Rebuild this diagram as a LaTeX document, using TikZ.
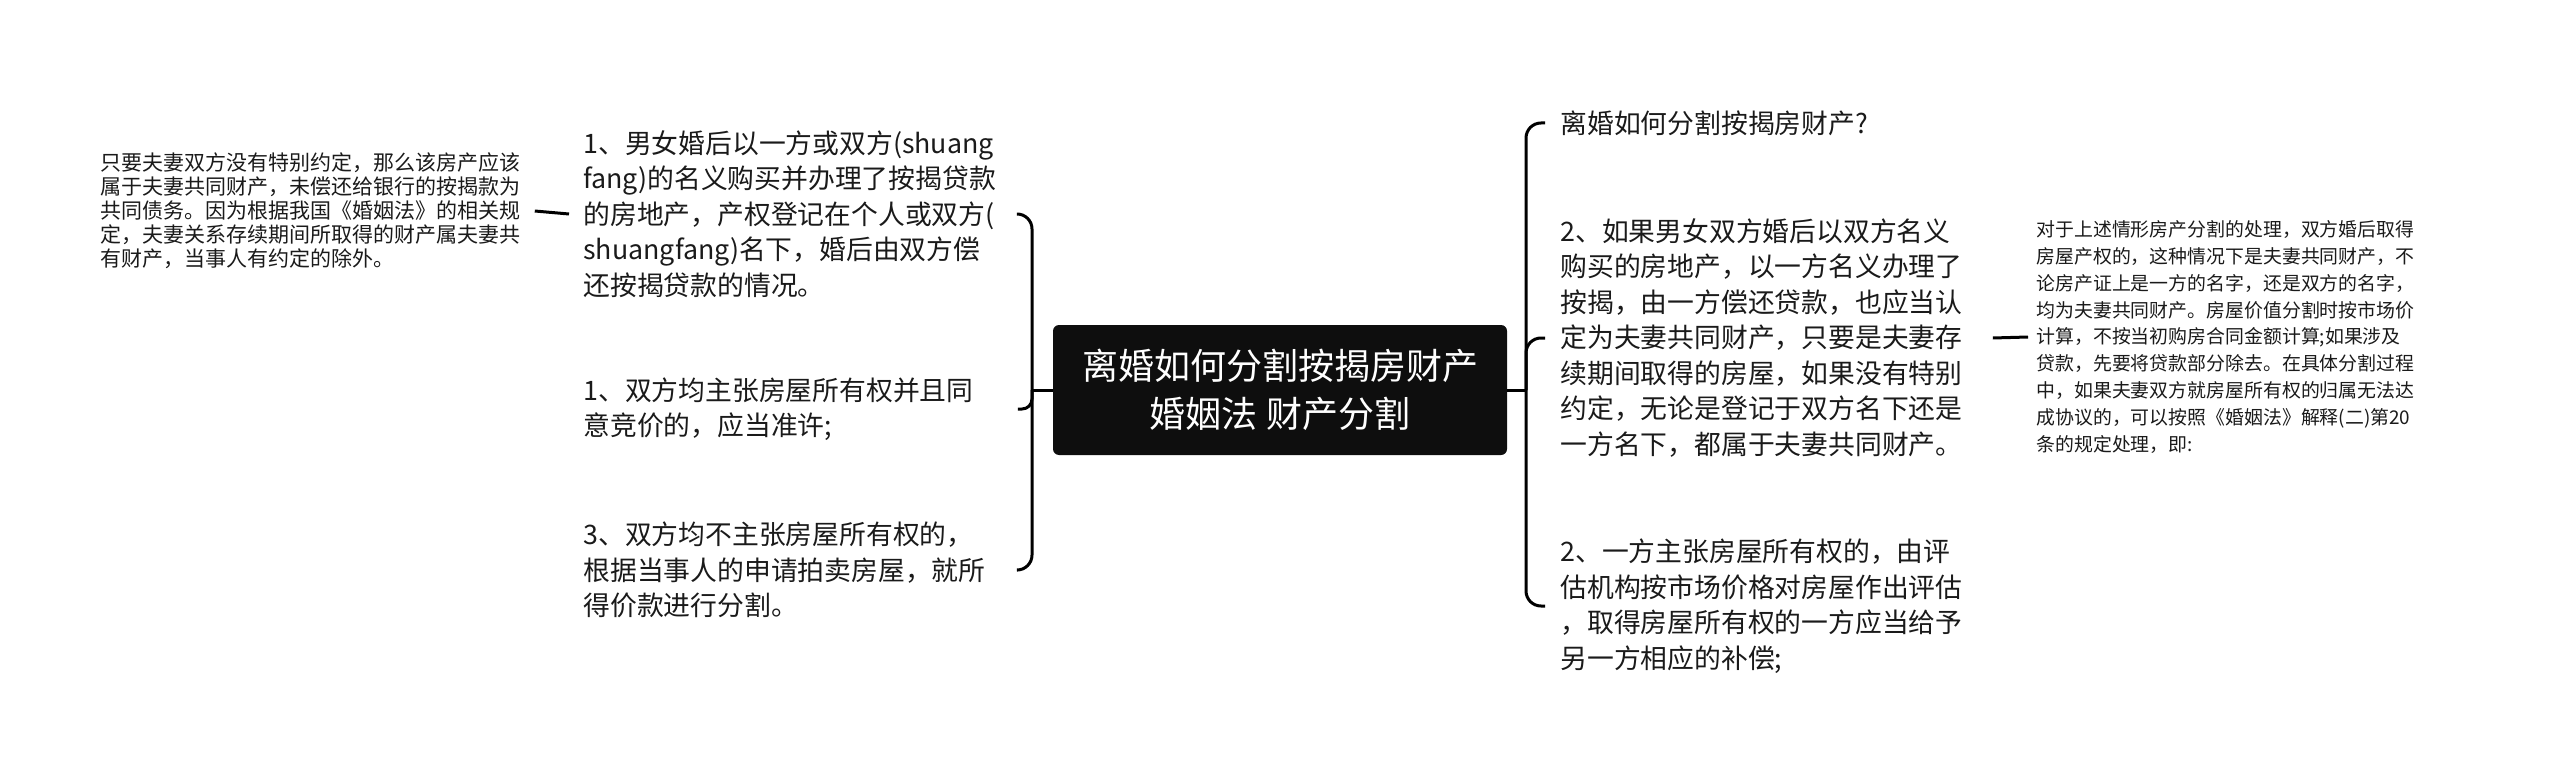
\documentclass[tikz,border=0pt]{standalone}
\usepackage{fontspec}
\setmainfont{Noto Sans CJK SC}
\definecolor{txt}{HTML}{1A1A1A}
\definecolor{cbox}{HTML}{0E0E0E}
\definecolor{lnk}{HTML}{000000}
\begin{document}
\begin{tikzpicture}[x=0.5pt,y=-0.5pt,
  midl/.style={anchor=west, inner xsep=7pt, inner ysep=0pt, text width=210pt, align=left,
    font=\fontsize{13.4}{17.75}\selectfont, text=txt},
  midr/.style={anchor=west, inner xsep=7.5pt, inner ysep=0pt, text width=208.5pt, align=left,
    font=\fontsize{13.4}{17.75}\selectfont, text=txt},
  farl/.style={anchor=west, inner xsep=5pt, inner ysep=0pt, text width=212pt, align=left,
    font=\fontsize{10.5}{12}\selectfont, text=txt},
  farr/.style={anchor=west, inner xsep=4pt, inner ysep=0pt, text width=195pt, align=left,
    font=\fontsize{9.45}{13.45}\selectfont, text=txt},
  centerbox/.style={fill=cbox, rounded corners=3pt, text=white, align=center,
    minimum width=227pt, minimum height=65pt, inner sep=0pt,
    font=\fontsize{18}{24}\selectfont},
  link/.style={draw=lnk, line width=1.5pt, rounded corners=7.5pt},
  linksmall/.style={draw=lnk, line width=1.5pt, rounded corners=5pt}
]
\useasboundingbox (0,0) rectangle (2560,781);

\node[centerbox] (C) at (1280,390) {离婚如何分割按揭房财产\\婚姻法 财产分割};

\node[midl] (L1) at (569,214) {1、男女婚后以一方或双方(shuang\\fang)的名义购买并办理了按揭贷款\\的房地产，产权登记在个人或双方(\\shuangfang)名下，婚后由双方偿\\还按揭贷款的情况。};
\node[midl] (L2) at (569,409) {1、双方均主张房屋所有权并且同\\意竞价的，应当准许;};
\node[midl] (L3) at (569,570) {3、双方均不主张房屋所有权的，\\根据当事人的申请拍卖房屋，就所\\得价款进行分割。};

\node[farl] (FL) at (90,211) {只要夫妻双方没有特别约定，那么该房产应该\\属于夫妻共同财产，未偿还给银行的按揭款为\\共同债务。因为根据我国《婚姻法》的相关规\\定，夫妻关系存续期间所取得的财产属夫妻共\\有财产，当事人有约定的除外。};

\node[midr] (R1) at (1545,123) {离婚如何分割按揭房财产?};
\node[midr] (R2) at (1545,338) {2、如果男女双方婚后以双方名义\\购买的房地产，以一方名义办理了\\按揭，由一方偿还贷款，也应当认\\定为夫妻共同财产，只要是夫妻存\\续期间取得的房屋，如果没有特别\\约定，无论是登记于双方名下还是\\一方名下，都属于夫妻共同财产。};
\node[midr] (R3) at (1545,606) {2、一方主张房屋所有权的，由评\\估机构按市场价格对房屋作出评估\\，取得房屋所有权的一方应当给予\\另一方相应的补偿;};

\node[farr] (FR) at (2028,337) {对于上述情形房产分割的处理，双方婚后取得\\房屋产权的，这种情况下是夫妻共同财产，不\\论房产证上是一方的名字，还是双方的名字，\\均为夫妻共同财产。房屋价值分割时按市场价\\计算，不按当初购房合同金额计算;如果涉及\\贷款，先要将贷款部分除去。在具体分割过程\\中，如果夫妻双方就房屋所有权的归属无法达\\成协议的，可以按照《婚姻法》解释(二)第20\\条的规定处理，即:};

\coordinate (JL) at (1032,390);
\coordinate (JR) at (1526,390);

\draw[link] (C.west) -- (JL);
\draw[link] (JL) |- (L1.east);
\draw[linksmall] (JL) |- (L2.east);
\draw[link] (JL) |- (L3.east);

\draw[link] (C.east) -- (JR);
\draw[link] (JR) |- (R1.west);
\draw[link] (JR) |- (R2.west);
\draw[link] (JR) |- (R3.west);

\draw[link] (FL.east) -- (L1.west);
\draw[link] (R2.east) -- (FR.west);
\end{tikzpicture}
\end{document}
